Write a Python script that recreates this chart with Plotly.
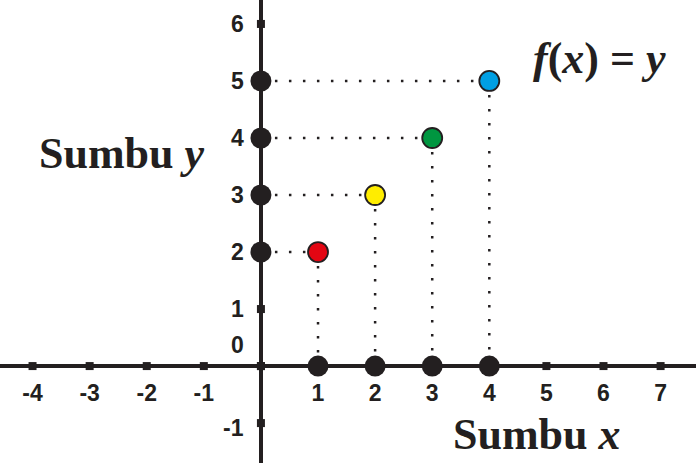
import plotly.graph_objects as go

# data
xs = [1, 2, 3, 4]
ys = [2, 3, 4, 5]
colors = ["#e30613", "#ffed00", "#009640", "#009fe3"]
x_ticks = [-4, -3, -2, -1, 0, 1, 2, 3, 4, 5, 6, 7]
y_ticks = [-1, 0, 1, 2, 3, 4, 5, 6]
x_tick_labels = [str(v) for v in x_ticks if v != 0]
y_tick_labels = [str(v) for v in y_ticks]

INK = "#231f20"
fig = go.Figure()

# dotted guide lines
for x, y in zip(xs, ys):
    fig.add_trace(go.Scatter(x=[0, x], y=[y, y], mode="lines",
                             line=dict(color=INK, width=2.5, dash="2.5px,11.5px"),
                             hoverinfo="skip", showlegend=False))
    fig.add_trace(go.Scatter(x=[x, x], y=[y, 0], mode="lines",
                             line=dict(color=INK, width=2.5, dash="2.5px,11.5px"),
                             hoverinfo="skip", showlegend=False))

# tick squares
xt_sq = [v for v in x_ticks if v not in xs]
yt_sq = [v for v in y_ticks if v not in ys]
fig.add_trace(go.Scatter(x=xt_sq, y=[0] * len(xt_sq),
                         mode="markers", marker=dict(symbol="square", size=8, color=INK),
                         showlegend=False, hoverinfo="skip"))
fig.add_trace(go.Scatter(x=[0] * len(yt_sq), y=yt_sq,
                         mode="markers", marker=dict(symbol="square", size=8, color=INK),
                         showlegend=False, hoverinfo="skip"))

# big black dots on axes
fig.add_trace(go.Scatter(x=[0] * len(ys), y=ys, mode="markers",
                         marker=dict(size=21, color=INK), showlegend=False, hoverinfo="skip"))
fig.add_trace(go.Scatter(x=xs, y=[0] * len(xs), mode="markers",
                         marker=dict(size=21, color=INK), showlegend=False, hoverinfo="skip"))

# coloured points
fig.add_trace(go.Scatter(x=xs, y=ys, mode="markers",
                         marker=dict(size=20, color=colors, line=dict(color=INK, width=1.8)),
                         showlegend=False))

# tick labels
fig.add_trace(go.Scatter(x=[v for v in x_ticks if v != 0], y=[-0.51] * len(x_tick_labels),
                         mode="text", text=x_tick_labels, texttemplate="<b>%{text}</b>",
                         textfont=dict(family="Liberation Sans", size=23, color=INK),
                         showlegend=False, hoverinfo="skip"))
for v, t in zip(y_ticks, y_tick_labels):
    yy = v
    if v == 0:
        yy = 0.37
    elif v == -1:
        yy = -1.09
    fig.add_annotation(x=-0.27, y=yy, text="<b>%s</b>" % t, showarrow=False,
                       xanchor="right", yanchor="middle",
                       font=dict(family="Liberation Sans", size=23, color=INK))

# titles
fig.add_annotation(x=-2.44, y=3.72, text="<b>Sumbu <i>y</i></b>", showarrow=False,
                   font=dict(family="Liberation Serif", size=44, color=INK))
fig.add_annotation(x=4.83, y=-1.2, text="<b>Sumbu <i>x</i></b>", showarrow=False,
                   font=dict(family="Liberation Serif", size=44, color=INK))
fig.add_annotation(x=5.93, y=5.4, text="<b><i>f</i>(<i>x</i>) = <i>y</i></b>", showarrow=False,
                   font=dict(family="Liberation Serif", size=44, color=INK))

fig.update_xaxes(range=[-4.57, 7.62], showgrid=False, showticklabels=False, ticks="",
                 zeroline=True, zerolinecolor=INK, zerolinewidth=3.5, showline=False)
fig.update_yaxes(range=[-1.70, 6.42], showgrid=False, showticklabels=False, ticks="",
                 zeroline=True, zerolinecolor=INK, zerolinewidth=3.5, showline=False)
fig.update_layout(width=696, height=463, margin=dict(l=0, r=0, t=0, b=0),
                  plot_bgcolor="white", paper_bgcolor="white")
fig.write_html("out.html")
